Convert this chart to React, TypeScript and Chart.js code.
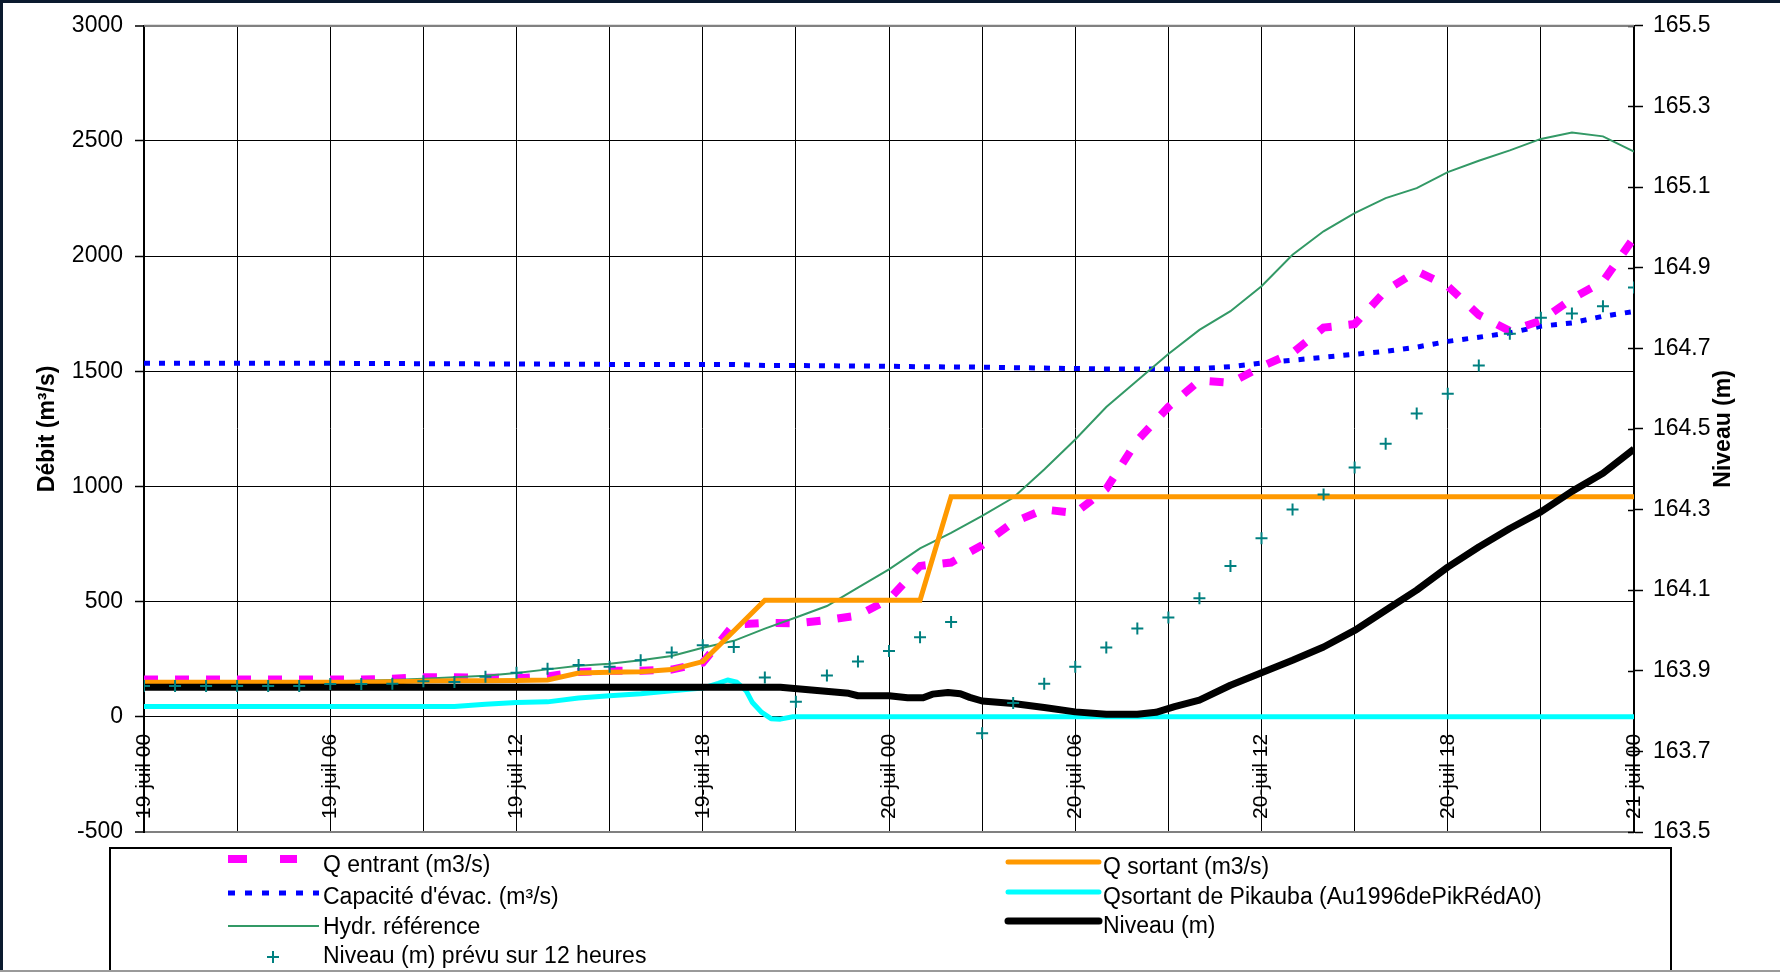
import React, { useEffect, useRef } from 'react';
import { Chart, registerables } from 'chart.js';

Chart.register(...registerables);

// ---- categories (hours since 19-juil 00:00) ----
const hours = [0, 1, 2, 3, 4, 5, 6, 7, 8, 9, 10, 11, 12, 13, 14, 15, 16, 17, 18, 19, 20, 21, 22, 23, 24,
  25, 26, 27, 28, 29, 30, 31, 32, 33, 34, 35, 36, 37, 38, 39, 40, 41, 42, 43, 44, 45, 46, 47, 48];

// ---- hourly series (m3/s) ----
const qEntrant = [162, 162, 162, 162, 162, 162, 162, 162, 165, 172, 172, 170, 168, 175, 195, 200, 200, 205, 235, 400,
  408, 406, 420, 440, 510, 655, 670, 745, 845, 900, 885, 990, 1200, 1345, 1460, 1450, 1520, 1580, 1690, 1705,
  1850, 1935, 1870, 1745, 1675, 1720, 1815, 1890, 2080];
const qSortant = [150, 150, 150, 150, 150, 150, 150, 150, 152, 155, 157, 157, 158, 160, 190, 193, 196, 205, 240, 373,
  506, 506, 506, 506, 506, 506, 955, 955, 955, 955, 955, 955, 955, 955, 955, 955, 955, 955, 955, 955,
  955, 955, 955, 955, 955, 955, 955, 955, 955];
const capaciteEvac = [1535, 1535, 1535, 1535, 1535, 1535, 1535, 1534, 1534, 1533, 1533, 1532, 1532, 1531, 1531, 1530, 1530,
  1530, 1530, 1530, 1525, 1525, 1524, 1523, 1522, 1520, 1519, 1518, 1516, 1514, 1512, 1510, 1510, 1510, 1512,
  1520, 1536, 1548, 1561, 1574, 1587, 1605, 1630, 1648, 1667, 1696, 1710, 1739, 1760];
const hydrReference = [145, 147, 148, 149, 150, 152, 154, 157, 160, 165, 172, 178, 190, 206, 222, 230, 246, 264, 300, 330,
  383, 431, 481, 561, 640, 731, 799, 872, 951, 1074, 1204, 1345, 1460, 1575, 1680, 1761, 1869, 2006, 2108, 2187,
  2252, 2295, 2365, 2414, 2459, 2509, 2537, 2520, 2454];

// ---- forecast level (m), hourly ----
const niveauPrevu = [163.862, 163.862, 163.862, 163.862, 163.862, 163.862, 163.867, 163.867, 163.868, 163.874, 163.872,
  163.885, 163.895, 163.905, 163.914, 163.91, 163.926, 163.945, 163.963, 163.959, 163.883, 163.823, 163.888, 163.923,
  163.949, 163.983, 164.021, 163.745, 163.82, 163.868, 163.91, 163.958, 164.005, 164.032, 164.08, 164.16, 164.229,
  164.3, 164.337, 164.404, 164.463, 164.538, 164.587, 164.657, 164.736, 164.776, 164.786, 164.804, 164.851];

// ---- Pikauba outflow (m3/s), finer time steps ----
const pikaubaHours = [0, 10, 11, 12, 13, 14, 15, 16, 17, 18, 18.5, 18.8, 19.1, 19.4, 19.6, 19.9, 20.2, 20.5, 20.9, 48];
const qPikauba = [45, 45, 55, 62, 65, 82, 91, 100, 113, 125, 145, 160, 150, 113, 62, 19, -8, -10, 0, 0];

// ---- reservoir level (m), finer time steps ----
const niveauHours = [0, 18, 20.5, 21.5, 22.7, 23, 24, 24.6, 25.1, 25.4, 25.9, 26.3, 26.6, 27, 28, 29, 30, 31, 32, 32.6,
  33.2, 34, 35, 36, 37, 38, 39, 40, 41, 42, 43, 44, 45, 46, 47, 48];
const niveau = [163.859, 163.859, 163.859, 163.852, 163.844, 163.838, 163.838, 163.833, 163.833, 163.842, 163.846,
  163.843, 163.834, 163.825, 163.819, 163.809, 163.798, 163.792, 163.792, 163.797, 163.811, 163.827, 163.864, 163.895,
  163.926, 163.959, 164.0, 164.05, 164.1, 164.157, 164.207, 164.253, 164.294, 164.345, 164.39, 164.45];

// ---- x tick labels ----
const xTickHours = [0, 6, 12, 18, 24, 30, 36, 42, 48];
const xTickLabels = ['19-juil 00', '19-juil 06', '19-juil 12', '19-juil 18', '20-juil 00', '20-juil 06',
  '20-juil 12', '20-juil 18', '21-juil 00'];

const FONT = '"Liberation Sans", Arial, Helvetica, sans-serif';

const pts = (xs: number[], ys: number[]) => xs.map((x, i) => ({ x, y: ys[i] }));

const decorPlugin = {
  id: 'decor',
  afterDatasetsDraw(chart: any) {
    const ctx = chart.ctx as CanvasRenderingContext2D;
    const xs = chart.scales.x;
    const ys = chart.scales.y;
    const y1 = chart.scales.y1;
    const area = chart.chartArea;
    ctx.save();
    // x labels at the zero line
    const y0 = ys.getPixelForValue(0);
    ctx.fillStyle = '#000';
    ctx.font = `21px ${FONT}`;
    xTickHours.forEach((h, i) => {
      ctx.save();
      ctx.translate(xs.getPixelForValue(h), y0 + 17);
      ctx.rotate(-Math.PI / 2);
      ctx.textAlign = 'right';
      ctx.textBaseline = 'middle';
      ctx.fillText(xTickLabels[i], 0, 0);
      ctx.restore();
    });
    // inner ticks of right axis
    ctx.strokeStyle = '#000';
    ctx.lineWidth = 1.5;
    y1.ticks.forEach((t: any) => {
      const py = Math.round(y1.getPixelForValue(t.value)) + 0.5;
      ctx.beginPath();
      ctx.moveTo(area.right - 6, py);
      ctx.lineTo(area.right, py);
      ctx.stroke();
    });
    ctx.restore();
  },
  afterDraw(chart: any) {
    const ctx = chart.ctx as CanvasRenderingContext2D;
    const area = chart.chartArea;
    ctx.save();
    // axis titles
    ctx.fillStyle = '#000';
    ctx.font = `bold 23px ${FONT}`;
    ctx.textAlign = 'center';
    ctx.textBaseline = 'middle';
    const cy = (area.top + area.bottom) / 2;
    [[48, 'Débit (m³/s)'], [1724, 'Niveau (m)']].forEach(([x, t]) => {
      ctx.save();
      ctx.translate(x as number, cy);
      ctx.rotate(-Math.PI / 2);
      ctx.fillText(t as string, 0, 0);
      ctx.restore();
    });
    // top border of plot
    ctx.strokeStyle = '#808080';
    ctx.lineWidth = 2;
    ctx.beginPath();
    ctx.moveTo(area.left, area.top);
    ctx.lineTo(area.right, area.top);
    ctx.stroke();

    // legend box
    ctx.strokeStyle = '#000';
    ctx.lineWidth = 2;
    ctx.strokeRect(110, 848, 1561, 160);

    ctx.font = `23px ${FONT}`;
    ctx.textAlign = 'left';
    ctx.textBaseline = 'middle';
    // col 1
    ctx.fillStyle = '#FF00FF';
    ctx.fillRect(228, 855, 19, 8);
    ctx.fillRect(280, 855, 17, 8);
    ctx.fillStyle = '#000';
    ctx.fillText('Q entrant (m3/s)', 323, 866);

    ctx.strokeStyle = '#0000FF';
    ctx.lineWidth = 5;
    ctx.setLineDash([7, 10]);
    ctx.beginPath();
    ctx.moveTo(228, 893);
    ctx.lineTo(319, 893);
    ctx.stroke();
    ctx.setLineDash([]);
    ctx.fillText("Capacité d'évac. (m³/s)", 323, 898);

    ctx.strokeStyle = '#339966';
    ctx.lineWidth = 2;
    ctx.beginPath();
    ctx.moveTo(228, 926);
    ctx.lineTo(319, 926);
    ctx.stroke();
    ctx.fillText('Hydr. référence', 323, 928);

    ctx.strokeStyle = '#008080';
    ctx.lineWidth = 2;
    ctx.beginPath();
    ctx.moveTo(267, 957);
    ctx.lineTo(279, 957);
    ctx.moveTo(273, 951);
    ctx.lineTo(273, 963);
    ctx.stroke();
    ctx.fillText('Niveau (m) prévu sur 12 heures', 323, 957);

    // col 2
    ctx.lineCap = 'round';
    const col2: [string, number, number, string, number][] = [
      ['#FF9900', 5, 862, 'Q sortant (m3/s)', 868],
      ['#00FFFF', 5, 892, 'Qsortant de Pikauba (Au1996dePikRédA0)', 898],
      ['#000000', 7, 921, 'Niveau (m)', 927],
    ];
    col2.forEach(([c, w, ly, t, ty]) => {
      ctx.strokeStyle = c;
      ctx.lineWidth = w;
      ctx.beginPath();
      ctx.moveTo(1008, ly);
      ctx.lineTo(1099, ly);
      ctx.stroke();
      ctx.fillText(t, 1103, ty);
    });
    ctx.lineCap = 'butt';

    // frame
    ctx.fillStyle = '#0b1a2e';
    ctx.fillRect(0, 0, 1780, 3);
    ctx.fillRect(0, 0, 3, 972);
    ctx.strokeStyle = '#9a9a9a';
    ctx.lineWidth = 2;
    ctx.beginPath();
    ctx.moveTo(0, 971);
    ctx.lineTo(1780, 971);
    ctx.stroke();
    ctx.restore();
  },
};

export default function App() {
  const ref = useRef<HTMLCanvasElement | null>(null);
  useEffect(() => {
    document.body.style.margin = '0';
    const edge = (v: number) => v === 3000 || v === -500;
    const chart = new Chart(ref.current as HTMLCanvasElement, {
      type: 'line',
      data: {
        datasets: [
          {
            label: 'Niveau (m) prévu sur 12 heures',
            data: pts(hours, niveauPrevu),
            yAxisID: 'y1',
            showLine: false,
            pointStyle: 'cross',
            pointRadius: 6,
            pointBorderWidth: 2,
            pointBorderColor: '#008080',
            borderColor: '#008080',
          },
          {
            label: 'Niveau (m)',
            data: pts(niveauHours, niveau),
            yAxisID: 'y1',
            borderColor: '#000000',
            borderWidth: 7,
            pointRadius: 0,
            borderJoinStyle: 'round',
          },
          {
            label: 'Q sortant (m3/s)',
            data: pts(hours, qSortant),
            yAxisID: 'y',
            borderColor: '#FF9900',
            borderWidth: 5,
            pointRadius: 0,
          },
          {
            label: 'Qsortant de Pikauba (Au1996dePikRédA0)',
            data: pts(pikaubaHours, qPikauba),
            yAxisID: 'y',
            borderColor: '#00FFFF',
            borderWidth: 5,
            pointRadius: 0,
            borderJoinStyle: 'round',
          },
          {
            label: 'Hydr. référence',
            data: pts(hours, hydrReference),
            yAxisID: 'y',
            borderColor: '#339966',
            borderWidth: 2,
            pointRadius: 0,
          },
          {
            label: 'Q entrant (m3/s)',
            data: pts(hours, qEntrant),
            yAxisID: 'y',
            borderColor: '#FF00FF',
            borderWidth: 8,
            borderDash: [14, 17],
            pointRadius: 0,
          },
          {
            label: "Capacité d'évac. (m³/s)",
            data: pts(hours, capaciteEvac),
            yAxisID: 'y',
            borderColor: '#0000FF',
            borderWidth: 5,
            borderDash: [6, 9],
            pointRadius: 0,
          },
        ] as any,
      },
      options: {
        responsive: false,
        animation: false,
        layout: { padding: { top: 25, left: 0, right: 0, bottom: 0 } },
        plugins: { legend: { display: false }, tooltip: { enabled: false } },
        scales: {
          x: {
            type: 'linear',
            position: 'bottom',
            min: 0,
            max: 48,
            ticks: { display: false, stepSize: 3 },
            grid: { color: '#000', lineWidth: 1, drawTicks: false },
            border: { display: true, color: '#808080', width: 2 },
            afterFit: (s: any) => { s.height = 140; },
          },
          y: {
            position: 'left',
            min: -500,
            max: 3000,
            ticks: {
              stepSize: 500,
              color: '#000',
              padding: 12,
              font: { family: FONT, size: 23 },
              callback: (v: any) => String(v),
            },
            grid: {
              color: (c: any) => (edge(c.tick?.value) ? '#808080' : '#000'),
              lineWidth: (c: any) => (edge(c.tick?.value) ? 2 : 1),
              tickColor: '#000',
              tickLength: 9,
              tickWidth: 1.5,
            },
            border: { display: true, color: '#000', width: 2 },
            afterFit: (s: any) => { s.width = 144; },
          },
          y1: {
            position: 'right',
            min: 163.5,
            max: 165.5,
            ticks: {
              stepSize: 0.2,
              color: '#000',
              padding: 10,
              font: { family: FONT, size: 23 },
              callback: (v: any) => Number(v).toFixed(1),
            },
            grid: { drawOnChartArea: false, tickColor: '#000', tickLength: 9, tickWidth: 1.5 },
            border: { display: true, color: '#000', width: 2 },
            afterFit: (s: any) => { s.width = 146; },
          },
        },
      } as any,
      plugins: [decorPlugin],
    });
    return () => chart.destroy();
  }, []);
  return (
    <div style={{ width: 1780, height: 972, background: '#fff' }}>
      <canvas ref={ref} width={1780} height={972} style={{ display: 'block', width: 1780, height: 972 }} />
    </div>
  );
}
